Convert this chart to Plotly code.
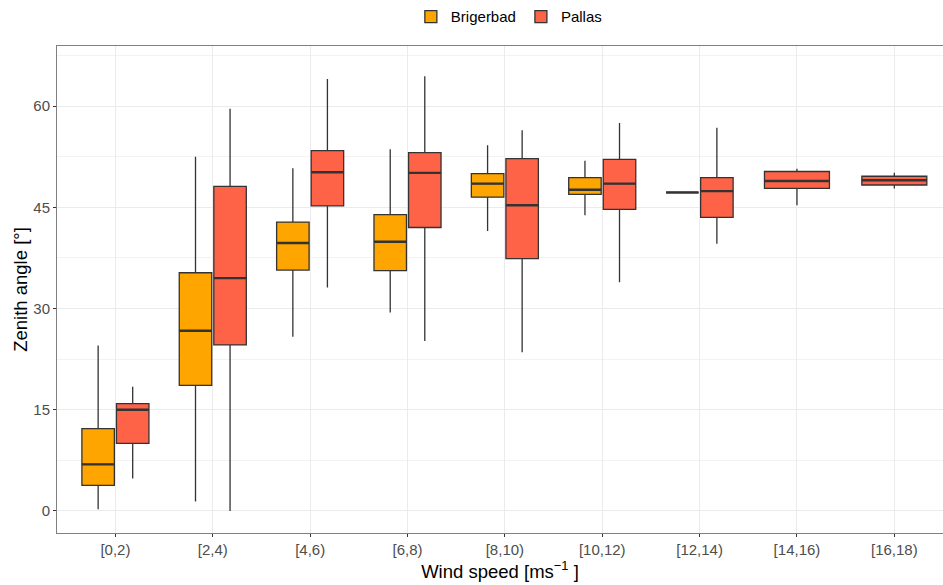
import plotly.graph_objects as go

categories = ["[0,2)", "[2,4)", "[4,6)", "[6,8)", "[8,10)", "[10,12)", "[12,14)", "[14,16)", "[16,18)"]

# Brigerbad (first 7 wind-speed classes)
brig_cats = categories[:7]
brig_low = [0.25, 1.4, 25.8, 29.4, 41.5, 43.8, 47.2]
brig_q1 = [3.8, 18.6, 35.7, 35.6, 46.5, 46.9, 47.2]
brig_med = [6.9, 26.7, 39.7, 39.9, 48.5, 47.6, 47.2]
brig_q3 = [12.2, 35.3, 42.8, 43.9, 50.0, 49.4, 47.2]
brig_high = [24.5, 52.5, 50.8, 53.6, 54.2, 51.9, 47.2]

# Pallas (all 9 classes)
pal_low = [4.8, 0.0, 33.1, 25.2, 23.5, 33.9, 39.6, 45.3, 47.8]
pal_q1 = [10.0, 24.6, 45.2, 42.0, 37.4, 44.7, 43.5, 47.8, 48.3]
pal_med = [15.0, 34.5, 50.2, 50.1, 45.3, 48.5, 47.4, 48.9, 49.0]
pal_q3 = [15.9, 48.1, 53.4, 53.1, 52.2, 52.1, 49.4, 50.3, 49.6]
pal_high = [18.4, 59.6, 64.0, 64.4, 56.4, 57.5, 56.8, 50.7, 50.1]

COL_B = "#FFA500"
COL_P = "#FF6347"
EDGE = "#333333"

fig = go.Figure()

common = dict(boxpoints=False, whiskerwidth=0, line=dict(color=EDGE, width=1.3), hoverinfo="skip")


def add_box(name, cats, lo, q1, med, q3, hi, color, ag, og, lg, show):
    fig.add_trace(go.Box(
        name=name, x=cats, q1=q1, median=med, q3=q3, lowerfence=lo, upperfence=hi,
        fillcolor=color, alignmentgroup=ag, offsetgroup=og, legendgroup=lg,
        showlegend=show, **common))
    # thicker median bar drawn on top, at the same slot
    fig.add_trace(go.Box(
        name=name, x=cats, q1=med, median=med, q3=med, lowerfence=med, upperfence=med,
        fillcolor=color, alignmentgroup=ag, offsetgroup=og, legendgroup=lg,
        showlegend=False, boxpoints=False, whiskerwidth=0,
        line=dict(color=EDGE, width=2.4), hoverinfo="skip"))


add_box("Brigerbad", brig_cats, brig_low, brig_q1, brig_med, brig_q3, brig_high,
        COL_B, "g1", "b", "b", True)
n2 = 7
add_box("Pallas", categories[:n2], pal_low[:n2], pal_q1[:n2], pal_med[:n2], pal_q3[:n2], pal_high[:n2],
        COL_P, "g1", "p", "p", True)
add_box("Pallas", categories[n2:], pal_low[n2:], pal_q1[n2:], pal_med[n2:], pal_q3[n2:], pal_high[n2:],
        COL_P, "g2", "p2", "p", False)

fig.update_layout(
    width=943, height=585,
    margin=dict(l=57, r=0, t=44, b=52),
    paper_bgcolor="white", plot_bgcolor="white",
    font=dict(family="Liberation Sans, Arial, sans-serif", color="#000000"),
    boxmode="group", boxgap=0.29, boxgroupgap=0.06,
    showlegend=True,
    legend=dict(orientation="h", x=0.51, xanchor="center", y=1.06, yanchor="middle",
                font=dict(size=15, color="#000000"), bgcolor="rgba(0,0,0,0)",
                itemwidth=30, tracegroupgap=0),
)

fig.update_xaxes(
    type="category", categoryorder="array", categoryarray=categories,
    range=[-0.6, 8.5],
    showgrid=True, gridcolor="#EBEBEB", gridwidth=1.1,
    showline=True, linecolor="#808080", linewidth=1, mirror=True,
    ticks="outside", ticklen=3, tickcolor="#333333", tickwidth=1,
    tickfont=dict(size=15, color="#4D4D4D"),
    title=dict(text="Wind speed [ms<sup>−1</sup> ]", font=dict(size=18.5, color="#000000"), standoff=3),
    zeroline=False,
)

fig.update_yaxes(
    range=[-3.27, 68.9],
    tickvals=[0, 15, 30, 45, 60],
    showgrid=True, gridcolor="#EBEBEB", gridwidth=1.1,
    minor=dict(tickvals=[7.5, 22.5, 37.5, 52.5, 67.5], showgrid=True, gridcolor="#F3F3F3", gridwidth=0.6),
    showline=True, linecolor="#808080", linewidth=1, mirror=False,
    ticks="outside", ticklen=3, tickcolor="#333333", tickwidth=1,
    tickfont=dict(size=15, color="#4D4D4D"),
    title=dict(text="Zenith angle [°]", font=dict(size=18.5, color="#000000"), standoff=0),
    zeroline=False,
)

fig.write_html("out.html")
